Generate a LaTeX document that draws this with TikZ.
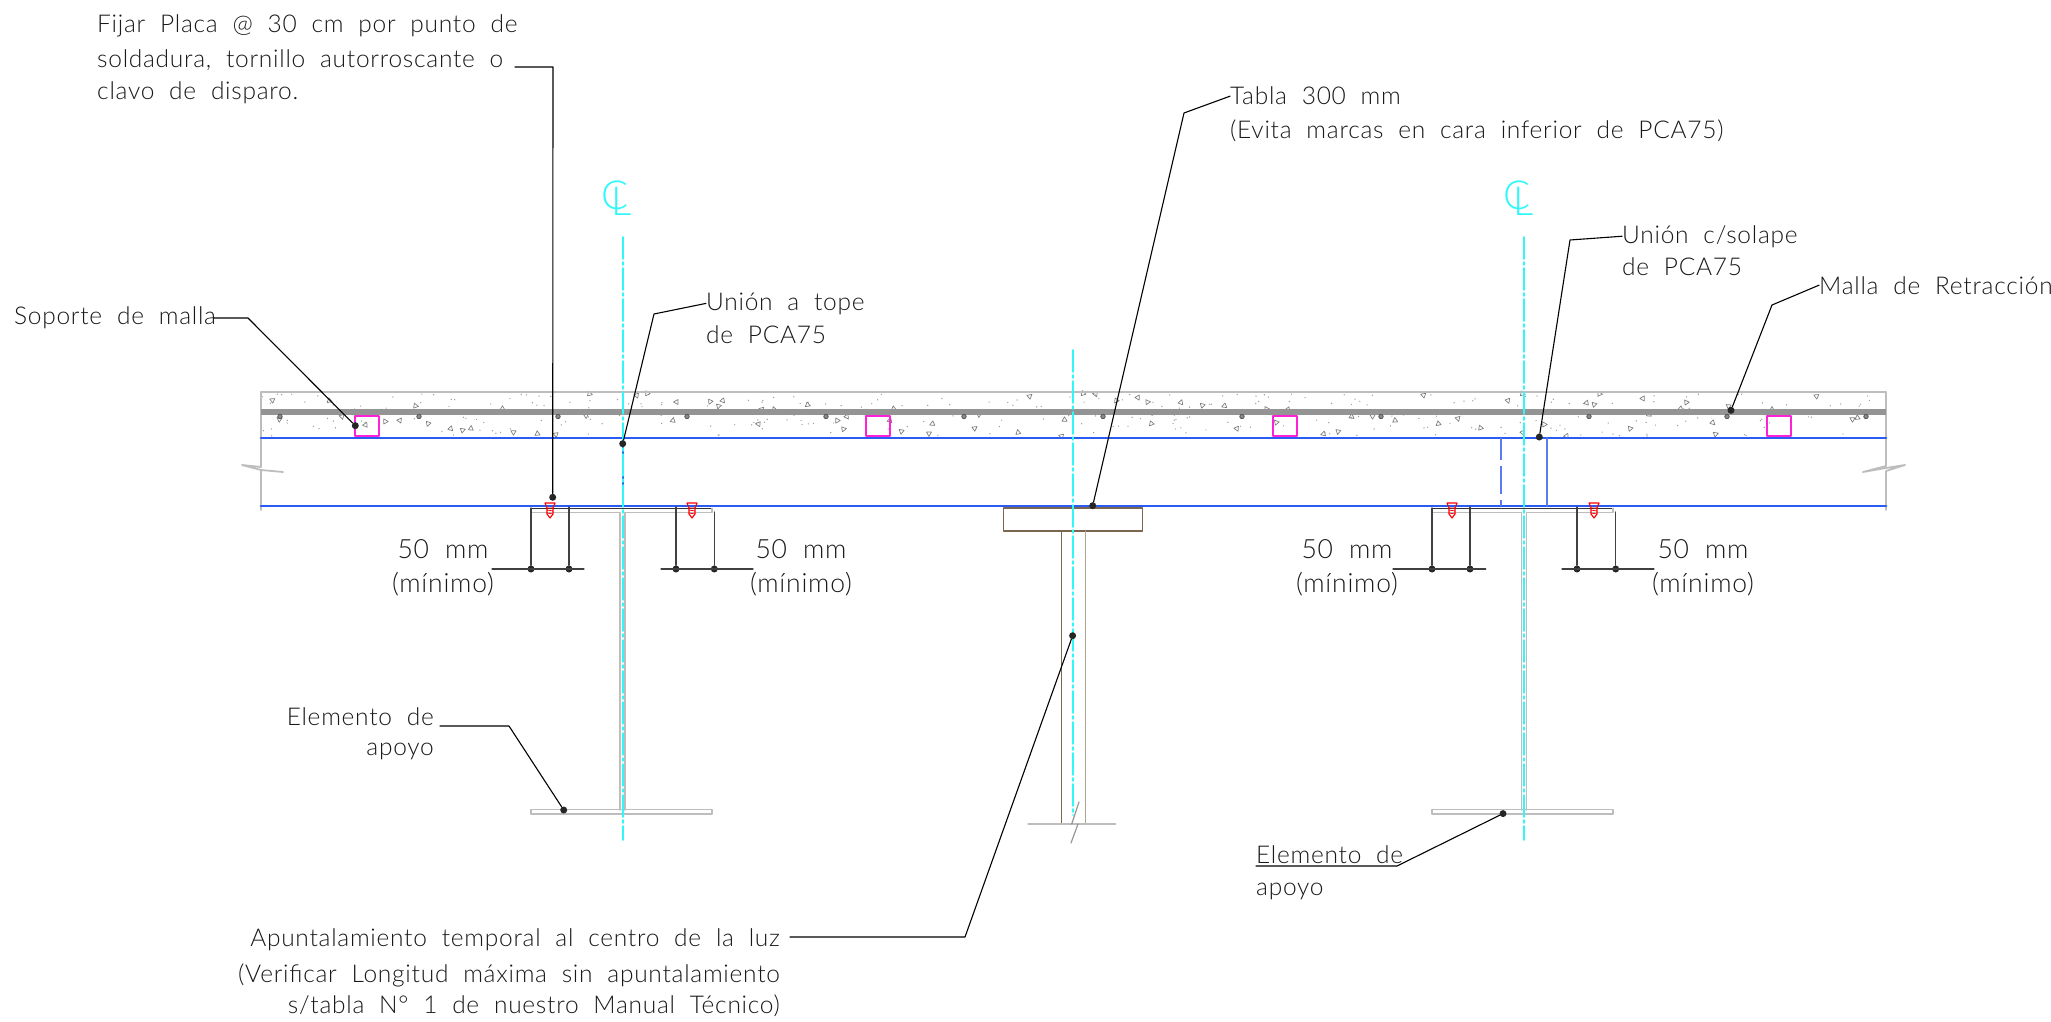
\documentclass[tikz,border=0pt]{standalone}
\usepackage{fontspec}
\setmainfont{Lato Light}[LetterSpace=3,WordSpace=2]
\definecolor{azul}{HTML}{2A5BF5}
\definecolor{azulclaro}{HTML}{5A7CF0}
\definecolor{eje}{HTML}{30F8F8}
\definecolor{malla}{HTML}{FF20D8}
\definecolor{cafe}{HTML}{7D6650}
\definecolor{cafeclaro}{HTML}{AFA393}
\definecolor{hormigon}{HTML}{BDBDBD}
\tikzset{
  rotulo/.style={inner sep=0pt,text=black!90,font=\fontsize{24.5}{24.5}\selectfont},
  rotulocota/.style={inner sep=0pt,text=black!90,font=\fontsize{26.5}{26.5}\selectfont},
  rotuloeje/.style={inner sep=0pt,text=eje,font=\fontsize{40}{40}\selectfont},
  leader/.style={black,line width=1.1pt},
  punto/.style={circle,fill=black!85,inner sep=0pt,minimum size=7pt},
  cota/.style={black!75,line width=1.2pt},
  losa/.style={azul,line width=2.8pt},
  perfil/.style={hormigon,line width=1.7pt},
  ejeline/.style={eje,line width=1.6pt,dash pattern=on 22pt off 3pt on 3pt off 3pt},
  grano/.style={black!50,line width=0.7pt},
  tornillo/.pic={
    \draw[red,line width=1.1pt] (-5,0)--(5,0)--(3,5)--(3,11)--(0,15)--(-3,11)--(-3,5)--(-5,0)--cycle;
    \draw[red,line width=0.8pt] (-3,5)--(3,5) (-3,7)--(3,8) (-3,10)--(3,11);
  }
}
\begin{document}
\begin{tikzpicture}[x=1pt,y=-1pt,line join=round,line cap=round]
\useasboundingbox (0,0) rectangle (2051,1022);
% hormigon
\pgfmathsetseed{11}
\foreach \i in {1,...,300}{
  \pgfmathsetmacro{\sx}{262+rnd*1622}
  \pgfmathsetmacro{\sy}{394+rnd*42}
  \fill[black!40] (\sx,\sy) circle (0.7);
}
\foreach \x/\y [count=\n] in {272/400,329/401,342/417,416/406,400/420,385/421,365/425,428/424,451/429,463/430,471/428,513/432,537/434,556/435,590/394,637/395,647/393,676/402,710/402,723/401,719/406,673/420,279/419,502/409,586/416,808/405,762/409,774/409,758/424,837/421,847/417,844/429,890/420,901/431,932/424,929/434,894/409,1030/396,1083/393,1095/394,1116/401,1138/398,1148/402,1181/402,1202/405,1224/406,979/415,1065/420,975/428,1018/432,1061/436,1151/424,1237/429,1267/409,1288/409,1276/422,1323/434,1338/432,1352/417,1373/416,1395/420,1423/395,1522/394,1508/401,1600/394,1643/398,1686/402,1586/403,1594/405,1681/409,1729/406,1772/409,1816/396,1438/424,1458/419,1481/428,1523/432,1544/424,1566/436,1630/429,1713/423,1716/434,1649/414,1852/419,1857/418}
  \draw[grano,rotate around={\n*65:(\x,\y)}] (\x-2.5,\y+2)--(\x+2.5,\y+2)--(\x,\y-2.5)--cycle;
\draw[hormigon,line width=1.8pt] (261,392)--(1886,392);
\draw[hormigon,line width=1.8pt] (261,392)--(261,467)--(242,465)--(261,470)--(283,472)--(261,470)--(261,510);
\draw[hormigon,line width=1.8pt] (1886,392)--(1886,466)--(1863,472)--(1886,468)--(1905,465)--(1886,471)--(1886,510);
\draw[black!42,line width=5.5pt,line cap=butt] (261,412)--(1886,412);
\foreach \x in {280,419,558,687,826,964,1103,1242,1381,1589,1727,1866}
  \draw[black!65,fill=black!45,line width=0.9pt] (\x,416.5) circle (2.2);
\foreach \x in {355,866,1273,1767}
  \draw[malla,line width=2.8pt] (\x,416) rectangle (\x+24,436);
\draw[losa] (261,438)--(1886,438);
\draw[losa] (261,506)--(1886,506);
\draw[azul,line width=1.2pt] (623,444)--(623,506);
\draw[azulclaro,line width=1.6pt,dash pattern=on 22pt off 6pt on 28pt off 6pt,line cap=butt] (1501,438)--(1501,506);
\draw[azulclaro,line width=1.6pt] (1547,438)--(1547,506);
% perfiles
\foreach \cx in {622.7,1524}{
  \draw[black!80,line width=1pt] (\cx-92,508.5)--(\cx+89,508.5);
  \draw[perfil] (\cx-92,512.5)--(\cx-2.5,512.5)--(\cx-2.5,810) (\cx+89,508.5)--(\cx+89,512.5)--(\cx+2.5,512.5)--(\cx+2.5,810);
  \draw[perfil] (\cx-92,809.5) rectangle (\cx+89,814);
  \draw[ejeline] (\cx,237)--(\cx,840);
}
\draw[cafe,line width=1.2pt] (1003.7,508) rectangle (1142.3,531);
\draw[cafe,line width=1.2pt] (1061.3,531)--(1061.3,824);
\draw[cafeclaro,line width=1.5pt] (1085.3,531)--(1085.3,824);
\draw[hormigon,line width=1.3pt] (1028,824)--(1071.7,824) (1078,824)--(1115.7,824);
\draw[hormigon!80!black,line width=1.2pt] (1079,802)--(1071.7,824)--(1078,824)--(1071,843);
\draw[ejeline] (1073,350)--(1073,815);
% simbolo eje
\foreach \cx/\nm in {615/a,1517/b}{
  \node[rotuloeje] (cl\nm C) at (\cx,195) {C};
  \node[rotuloeje,anchor=base west] (cl\nm L) at (\cx-4,215) {L};
}
% tornillos
\foreach \x in {550,692,1452,1594}
  \pic at (\x,503) {tornillo};
% cotas
\foreach \a/\b/\l/\r/\t/\nm in {531/569/492/584/508/a,676/714.3/661/753/512/b,1432/1470/1393/1485.7/508/c,1577/1615.7/1562/1654/512/d}{
  \node[punto] (dot\nm A) at (\a,569) {};
  \node[punto] (dot\nm B) at (\b,569) {};
  \draw[cota] (\l,569)--(\r,569);
}
\draw[cota] (dotaA)--(531,508) (dotaB)--(569,507) (dotbA)--(676,507) (dotbB)--(714.3,512);
\draw[cota] (dotcA)--(1432,508) (dotcB)--(1470,507) (dotdA)--(1577,507) (dotdB)--(1615.7,512);
\foreach \x/\nm in {443/a,801/b,1347/c,1703/d}{
  \node[rotulocota,anchor=base] (cincuenta\nm) at (\x,558) {50 mm};
  \node[rotulocota,anchor=base] (minimo\nm) at (\x,592) {(mínimo)};
}
% rotulos
\node[rotulo,anchor=base west] (fijarA) at (97,33) {Fijar Placa @ 30 cm por punto de};
\node[rotulo,anchor=base west] (fijarB) at (97,68) {soldadura, tornillo autorroscante o};
\node[rotulo,anchor=base west] (fijarC) at (97,100) {clavo de disparo.};
\node[rotulo,anchor=base west] (tablaA) at (1230,105) {Tabla 300 mm};
\node[rotulo,anchor=base west] (tablaB) at (1230,139) {(Evita marcas en cara inferior de PCA75)};
\node[rotulo,anchor=base west] (topeA) at (706,310) {Unión a tope};
\node[rotulo,anchor=base west] (topeB) at (706,343) {de PCA75};
\node[rotulo,anchor=base west] (solapeA) at (1622,243) {Unión c/solape};
\node[rotulo,anchor=base west] (solapeB) at (1622,275) {de PCA75};
\node[rotulo,anchor=base west] (retraccion) at (1819,294) {Malla de Retracción};
\node[rotulo,anchor=base west] (soporte) at (14,324) {Soporte de malla};
\node[rotulo,anchor=base east] (apoyoA) at (434,725) {Elemento de};
\node[rotulo,anchor=base east] (apoyoB) at (434,755) {apoyo};
\node[rotulo,anchor=base west] (apoyoC) at (1256,863) {Elemento de};
\node[rotulo,anchor=base west] (apoyoD) at (1256,895) {apoyo};
\node[rotulo,anchor=base east] (apunA) at (780,946) {Apuntalamiento temporal al centro de la luz};
\node[rotulo,anchor=base east] (apunB) at (780,982) {(Verificar Longitud máxima sin apuntalamiento};
\node[rotulo,anchor=base east] (apunC) at (780,1013) {s/tabla N° 1 de nuestro Manual Técnico)};
% lineas de referencia
\node[punto] (pfijar) at (552.7,497.3) {};
\node[punto] (ptabla) at (1092.7,505.7) {};
\node[punto] (ptope) at (622.7,443.7) {};
\node[punto] (psolape) at (1539.3,437) {};
\node[punto] (pretraccion) at (1731,410.3) {};
\node[punto] (psoporte) at (355.3,425.7) {};
\node[punto] (papoyoa) at (563.7,810) {};
\node[punto] (papoyob) at (1503,813.6) {};
\node[punto] (papun) at (1072.6,635.7) {};
\coordinate (fi) at (515,67);
\coordinate (ap) at (790,937);
\coordinate (la) at (214,318);
\coordinate (ea) at (440,726);
\coordinate (eb) at (1256,866);
\draw[leader] (fi)--(553,67)--(pfijar);
\draw[leader] (tablaA.west)--(1184,113)--(ptabla);
\draw[leader] (topeA.west)--(654,314)--(ptope);
\draw[leader] (solapeA.west)--(1570,240)--(psolape);
\draw[leader] (retraccion.west)--(1772,305)--(pretraccion);
\draw[leader] (la)--(248,318)--(psoporte);
\draw[leader] (ea)--(509,726)--(papoyoa);
\draw[leader] (eb)--(1397,866)--(papoyob);
\draw[leader] (ap)--(965,937)--(papun);
\end{tikzpicture}
\end{document}
